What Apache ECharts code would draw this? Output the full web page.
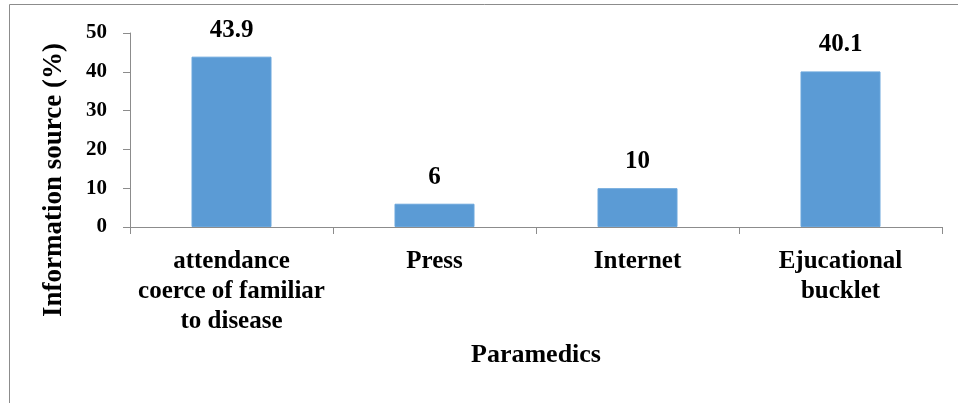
<!DOCTYPE html>
<html>
<head>
<meta charset="utf-8">
<script src="https://cdn.jsdelivr.net/npm/echarts@6/dist/echarts.min.js"></script>
<style>
  html, body { margin: 0; padding: 0; background: #ffffff; }
  #chart { width: 958px; height: 403px; }
</style>
</head>
<body>
<div id="chart"></div>
<script>
// Information sources reported by paramedics (%)
const categories = [
  'attendance\ncoerce of familiar\nto disease',
  'Press',
  'Internet',
  'Ejucational\nbucklet'
];
const values = [43.9, 6, 10, 40.1];
const yMin = 0;
const yMax = 50;
const yStep = 10;
const xTitle = 'Paramedics';
const yTitle = 'Information source (%)';

const serif = 'Liberation Serif, serif';
const axisGray = '#8c8c8c';

const chart = echarts.init(document.getElementById('chart'), null, { renderer: 'canvas' });

chart.setOption({
  animation: false,
  backgroundColor: '#ffffff',
  graphic: [
    {
      type: 'rect',
      silent: true,
      shape: { x: 9.5, y: 4.5, width: 1000, height: 500 },
      style: { fill: 'none', stroke: axisGray, lineWidth: 1 }
    },
    {
      type: 'text',
      silent: true,
      x: 54,
      y: 180,
      rotation: Math.PI / 2,
      style: {
        text: yTitle,
        fontFamily: serif,
        fontWeight: 'bold',
        fontSize: 27,
        fill: '#000000',
        align: 'center',
        verticalAlign: 'middle'
      }
    }
  ],
  grid: { left: 130, right: 16, top: 33, bottom: 176, containLabel: false },
  xAxis: {
    type: 'category',
    data: categories,
    name: xTitle,
    nameLocation: 'middle',
    nameGap: 115,
    nameTextStyle: { fontFamily: serif, fontWeight: 'bold', fontSize: 26, color: '#000000' },
    axisLine: { lineStyle: { color: axisGray, width: 1 } },
    axisTick: { show: true, length: 7, lineStyle: { color: axisGray } },
    axisLabel: {
      interval: 0,
      margin: 20,
      fontFamily: serif,
      fontWeight: 'bold',
      fontSize: 25,
      lineHeight: 30,
      color: '#000000',
      align: 'center'
    },
    splitLine: { show: false }
  },
  yAxis: {
    type: 'value',
    min: yMin,
    max: yMax,
    interval: yStep,
    axisLine: { show: true, lineStyle: { color: axisGray, width: 1 } },
    axisTick: { show: true, length: 7, lineStyle: { color: axisGray } },
    axisLabel: {
      margin: 23,
      fontFamily: serif,
      fontWeight: 'bold',
      fontSize: 21,
      color: '#000000'
    },
    splitLine: { show: false }
  },
  series: [
    {
      type: 'bar',
      data: values,
      barWidth: 80,
      itemStyle: { color: '#5b9bd5', borderColor: '#6aa6dc', borderWidth: 1 },
      label: {
        show: true,
        position: 'top',
        distance: 14,
        fontFamily: serif,
        fontWeight: 'bold',
        fontSize: 25,
        color: '#000000'
      }
    }
  ]
});
</script>
</body>
</html>
